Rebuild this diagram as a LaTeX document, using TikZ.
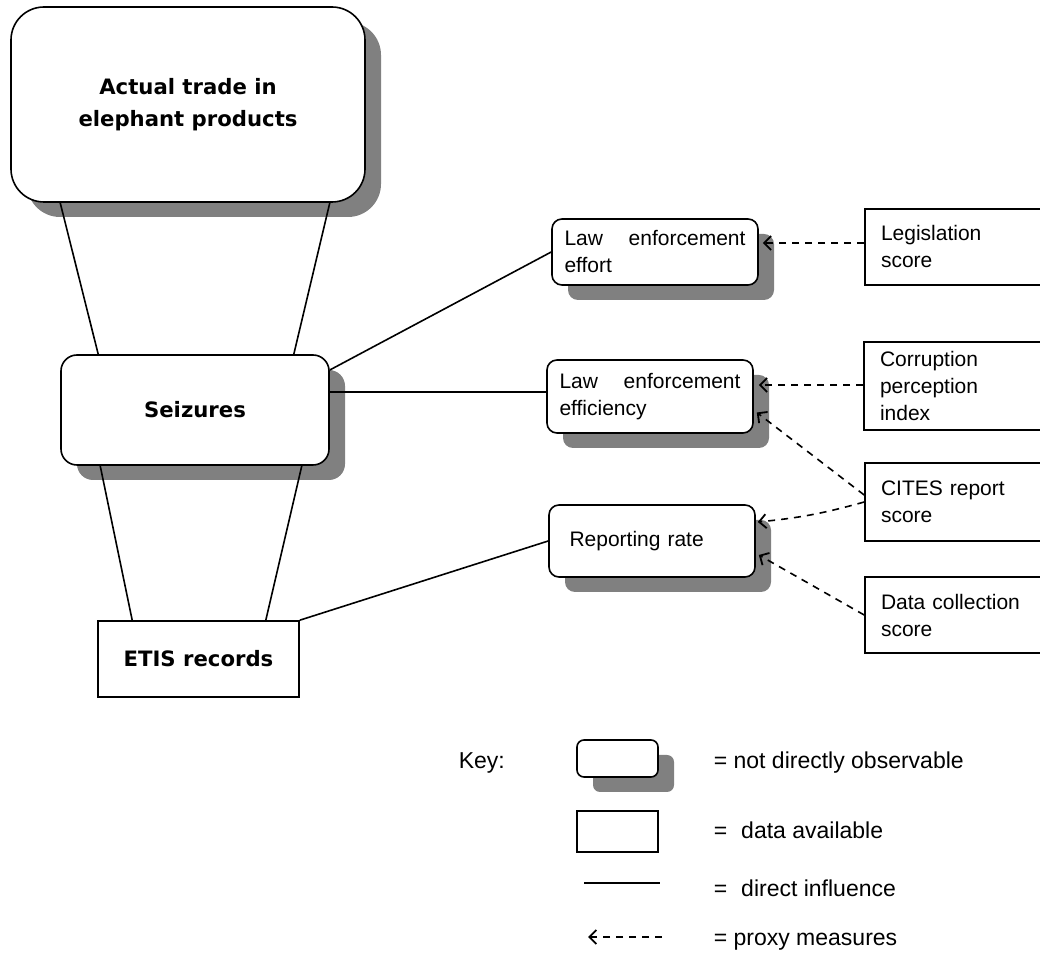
\documentclass[tikz,border=0pt]{standalone}
\usepackage{fontspec}
\setmainfont{Liberation Sans}
\newfontfamily\boldsans{DejaVu Sans}
\usetikzlibrary{arrows.meta,shadows}

\begin{document}
\begin{tikzpicture}[x=0.5pt, y=-0.5pt, line width=0.8pt, font=\fontsize{10.5}{13.5}\selectfont,
	hiddenbox/.style={draw, fill=white, drop shadow={shadow xshift=8pt, shadow yshift=-7.5pt, fill=gray, opacity=1}},
	databox/.style={draw, fill=white},
	headline/.style={font=\boldsans\bfseries\fontsize{10.6}{16}\selectfont, align=center},
	factor/.style={hiddenbox, rounded corners=5pt, text width=90.5pt, inner xsep=6.25pt, align=left},
	proxyscore/.style={databox, text width=81.5pt, inner xsep=8pt, align=left},
	keytext/.style={anchor=west, inner xsep=0pt, font=\fontsize{11.5}{13.5}\selectfont},
	influence/.style={draw},
	proxy/.style={dash pattern=on 3.5pt off 3pt, -{Straight Barb[length=3.5pt,width=7pt,line width=0.9pt]}}]
	\clip (0,0) rectangle (1040,956);
	% main chain
	\node[hiddenbox, headline, rounded corners=16.5pt, minimum width=177pt, minimum height=97.5pt] (trade) at (188,104.5) {Actual trade in\\elephant products};
	\node[hiddenbox, headline, rounded corners=8pt, minimum width=134pt, minimum height=55pt] (seiz) at (195,410) {Seizures};
	\node[databox, headline, minimum width=100.5pt, minimum height=38pt] (etis) at (198.5,659) {ETIS records};
	% factors
	\node[factor, minimum height=33pt] (effort) at (655,252) {Law\hfill enforcement\\effort};
	\node[factor, minimum height=36.5pt] (effic) at (650,396.5) {Law\hfill enforcement\\efficiency};
	\node[factor, minimum height=36pt] (report) at (652,541) {\hspace*{4pt}Reporting rate};
	% scores
	\node[proxyscore, minimum height=38pt] (legis) at (962.5,247) {Legislation\\score};
	\node[proxyscore, minimum height=44pt] (corr) at (961.5,386) {Corruption\\perception\\index};
	\node[proxyscore, minimum height=39pt] (cites) at (962.5,502) {CITES report\\score};
	\node[proxyscore, minimum height=38pt] (data) at (962.5,615) {Data collection\\score};

	\draw[influence] ([xshift=25pt]trade.south west) -- ([xshift=19pt]seiz.north west);
	\draw[influence] ([xshift=-18pt]trade.south east) -- ([xshift=-18pt]seiz.north east);
	\draw[influence] ([xshift=20pt]seiz.south west) -- ([xshift=17.5pt]etis.north west);
	\draw[influence] ([xshift=-14pt]seiz.south east) -- ([xshift=-17pt]etis.north east);
	\draw[influence] ([yshift=20pt]seiz.east) -- (effort.west);
	\draw[influence] ([yshift=9pt]seiz.east) -- ([yshift=2.25pt]effic.west);
	\draw[influence] (etis.north east) -- (report.west);

	\draw[proxy] ([yshift=2pt]legis.west) -- ([xshift=2pt,yshift=4.5pt]effort.east);
	\draw[proxy] ([yshift=0.5pt]corr.west) -- ([xshift=2.5pt,yshift=5.75pt]effic.east);
	\draw[proxy] ([yshift=3.5pt]cites.west) -- ([xshift=1.5pt,yshift=-8pt]effic.east);
	\draw[proxy] (cites.west) to[bend left=5] ([xshift=1pt,yshift=9.5pt]report.east);
	\draw[proxy] (data.west) -- ([xshift=1.5pt,yshift=-7pt]report.east);

	% key
	\node[keytext] (keylabel) at (458,763) {Key:};
	\node[hiddenbox, rounded corners=3.5pt, minimum width=40.5pt, minimum height=18.5pt] (keyhidden) at (617.5,758.5) {};
	\node[keytext] (keyhiddentext) at (713,763) {= not directly observable};
	\node[databox, minimum width=40.5pt, minimum height=20.5pt] (keydata) at (617.5,831.5) {};
	\node[keytext] (keydatatext) at (713,830) {=\hspace{7pt}data available};
	\coordinate (lineA) at (584,883);
	\coordinate (lineB) at (660,883);
	\draw[influence] (lineA) -- (lineB);
	\node[keytext] (keylinetext) at (713,888) {=\hspace{7pt}direct influence};
	\coordinate (proxyA) at (662,937);
	\coordinate (proxyB) at (588,937);
	\draw[proxy] (proxyA) -- (proxyB);
	\node[keytext] (keyproxytext) at (713,942) {= proxy measures};
\end{tikzpicture}
\end{document}
